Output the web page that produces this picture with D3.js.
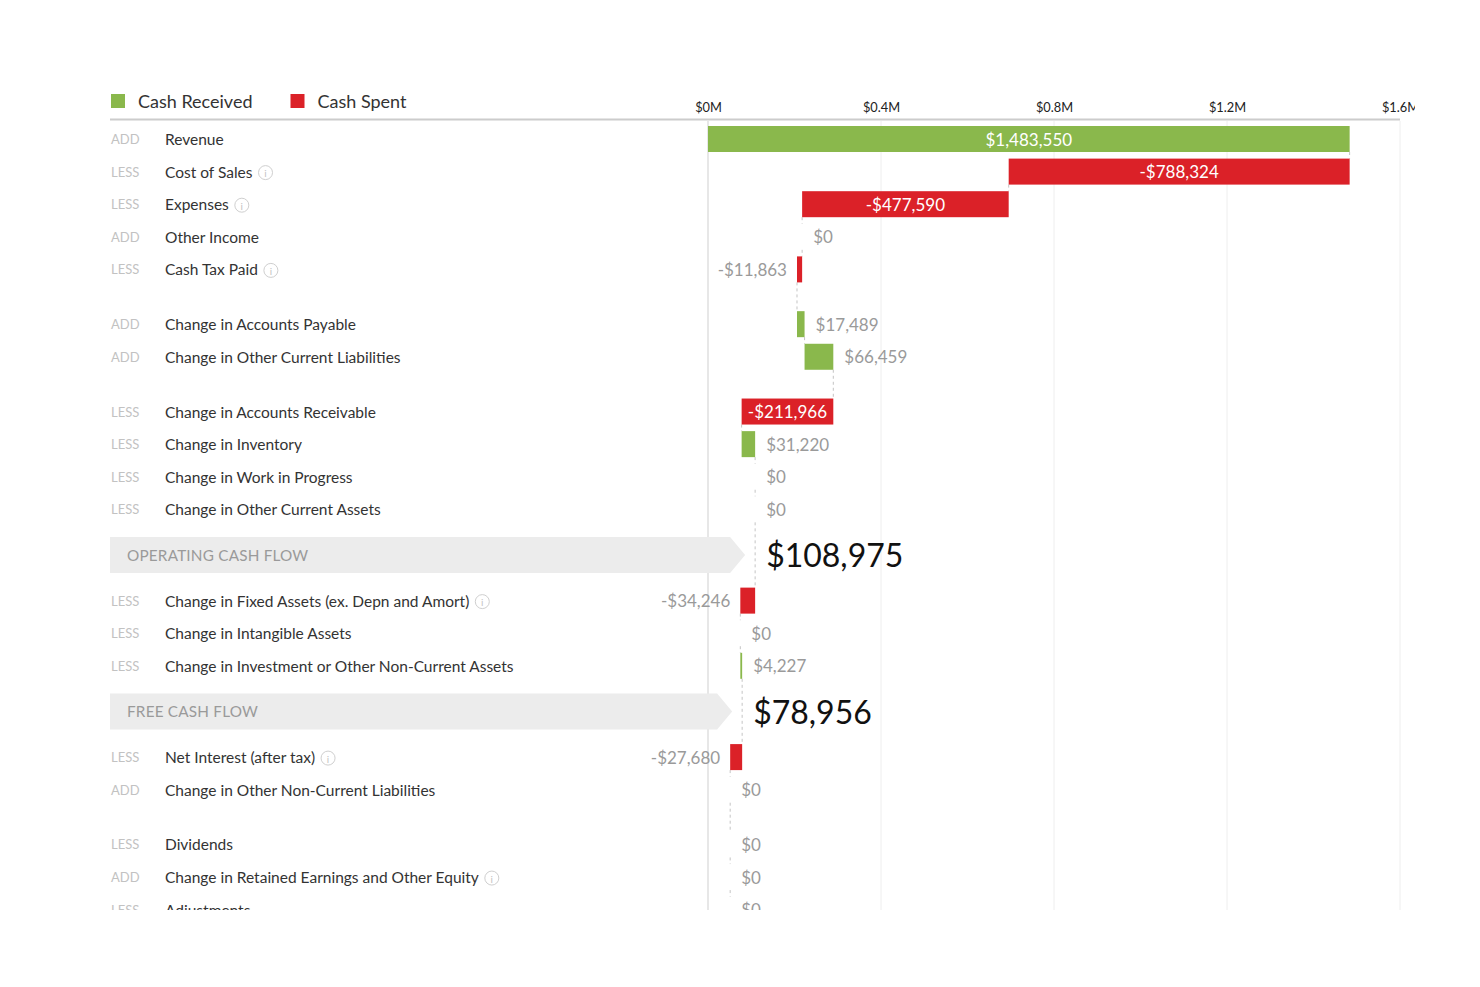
<!DOCTYPE html>
<html>
<head>
<meta charset="utf-8">
<script src="https://cdn.jsdelivr.net/npm/d3@7"></script>
<style>
  html, body { margin: 0; padding: 0; background: #fff; }
  svg { display: block; font-family: Lato, "Open Sans", sans-serif; }
</style>
</head>
<body>
<svg id="chart" width="1480" height="987"></svg>
<script>
// ---------------- DATA ----------------
const rowLabels = [
  "Revenue", "Cost of Sales", "Expenses", "Other Income", "Cash Tax Paid",
  "Change in Accounts Payable", "Change in Other Current Liabilities",
  "Change in Accounts Receivable", "Change in Inventory", "Change in Work in Progress", "Change in Other Current Assets",
  "Change in Fixed Assets (ex. Depn and Amort)", "Change in Intangible Assets", "Change in Investment or Other Non-Current Assets",
  "Net Interest (after tax)", "Change in Other Non-Current Liabilities",
  "Dividends", "Change in Retained Earnings and Other Equity", "Adjustments"
];
const rowPrefixes = [
  "ADD", "LESS", "LESS", "ADD", "LESS",
  "ADD", "ADD",
  "LESS", "LESS", "LESS", "LESS",
  "LESS", "LESS", "LESS",
  "LESS", "ADD",
  "LESS", "ADD", "LESS"
];
const rowValues = [
  1483550, -788324, -477590, 0, -11863,
  17489, 66459,
  -211966, 31220, 0, 0,
  -34246, 0, 4227,
  -27680, 0,
  0, 0, 0
];
const rowInfo = [
  false, true, true, false, true,
  false, false,
  false, false, false, false,
  true, false, false,
  true, false,
  false, true, false
];
const subtotalNames = ["OPERATING CASH FLOW", "FREE CASH FLOW"];
const subtotalValues = [108975, 78956];
// order of items: r = row, gap = spacer, sub = subtotal banner
const sequence = ["r","r","r","r","r","gap","r","r","gap","r","r","r","r","sub","r","r","r","sub","r","r","gap","r","r","r"];
const legendNames = ["Cash Received", "Cash Spent"];
const tickValues = [0, 400000, 800000, 1200000, 1600000];

// ---------------- LAYOUT ----------------
const GREEN = "#8ab84c", RED = "#db2128";
const svg = d3.select("#chart");

svg.append("defs").append("clipPath").attr("id", "clip")
  .append("rect").attr("x", 0).attr("y", 0).attr("width", 1415).attr("height", 910);

const root = svg.append("g").attr("clip-path", "url(#clip)");

const x = d3.scaleLinear().domain([0, 1600000]).range([708, 1400]);

const unitH = { r: 1, gap: 0.68, sub: 1.8 };
let acc = 0, rowIdx = 0, subIdx = 0;
const items = [];
sequence.forEach(t => {
  const it = { type: t, start: acc, center: acc + unitH[t] / 2 };
  if (t === "r") it.i = rowIdx++;
  if (t === "sub") it.s = subIdx++;
  items.push(it);
  acc += unitH[t];
});
const y = d3.scaleLinear().domain([0, 1]).range([122.7, 122.7 + 32.6]);
const barH = 26;

let run = 0;
const rows = rowLabels.map((lab, i) => {
  const from = run; run += rowValues[i];
  return { i, label: lab, prefix: rowPrefixes[i], value: rowValues[i], info: rowInfo[i], from, to: run };
});
items.filter(d => d.type === "r").forEach(d => { rows[d.i].cy = y(d.center); });

// ---------------- LEGEND ----------------
const legend = root.append("g");
let lx = 111;
legendNames.forEach((name, k) => {
  legend.append("rect").attr("x", lx).attr("y", 94).attr("width", 14).attr("height", 14)
    .attr("fill", k === 0 ? GREEN : RED);
  const t = legend.append("text").attr("x", lx + 27).attr("y", 101).attr("dominant-baseline", "central")
    .attr("font-size", 18).attr("fill", "#333").text(name);
  lx = lx + 27 + t.node().getComputedTextLength() + 38;
});

// ---------------- AXIS & GRID ----------------
const axis = d3.axisTop(x).tickValues(tickValues).tickSize(0)
  .tickFormat(d => "$" + (d / 1e6) + "M");
const axG = root.append("g").attr("transform", "translate(0,115)").call(axis);
axG.select(".domain").remove();
axG.selectAll("text").attr("font-size", 12.8).attr("fill", "#222").attr("font-family", "Lato, sans-serif");

root.append("g").selectAll("line").data(tickValues.slice(1)).join("line")
  .attr("x1", d => x(d)).attr("x2", d => x(d)).attr("y1", 121).attr("y2", 910)
  .attr("stroke", "#eeeeee").attr("stroke-width", 1);
root.append("line").attr("x1", x(0)).attr("x2", x(0)).attr("y1", 121).attr("y2", 910)
  .attr("stroke", "#cfcfcf").attr("stroke-width", 1);
root.append("line").attr("x1", 110).attr("x2", 1400).attr("y1", 119.5).attr("y2", 119.5)
  .attr("stroke", "#cccccc").attr("stroke-width", 2);

// ---------------- SUBTOTAL BANNERS ----------------
const subs = items.filter(d => d.type === "sub");
const bannerH = 36;
subs.forEach(d => {
  const cy = y(d.center);
  const v = subtotalValues[d.s];
  const tip = x(v) - 10;
  const top = cy - bannerH / 2, bot = cy + bannerH / 2;
  root.append("path")
    .attr("d", `M110,${top} L${tip - 15},${top} L${tip},${cy} L${tip - 15},${bot} L110,${bot} Z`)
    .attr("fill", "#ececec");
  root.append("text").attr("x", 127).attr("y", cy).attr("dominant-baseline", "central")
    .attr("font-size", 15.3).attr("fill", "#9a9a9a").attr("letter-spacing", 0.2).text(subtotalNames[d.s]);
  root.append("text").attr("x", x(v) + 11).attr("y", cy).attr("dominant-baseline", "central")
    .attr("font-size", 32).attr("fill", "#111").text("$" + d3.format(",")(v));
});

// ---------------- CONNECTORS ----------------
const conn = [];
for (let k = 0; k < rows.length - 1; k++) {
  conn.push({ xv: rows[k].to, y1: rows[k].cy + barH / 2, y2: rows[k + 1].cy - barH / 2 });
}
conn.push({ xv: rows[rows.length - 1].to, y1: rows[rows.length - 1].cy + barH / 2, y2: 930 });
root.append("g").selectAll("line").data(conn).join("line")
  .attr("x1", d => x(d.xv)).attr("x2", d => x(d.xv))
  .attr("y1", d => d.y1).attr("y2", d => d.y2)
  .attr("stroke", "#c4c4c4").attr("stroke-width", 1).attr("stroke-dasharray", "3,3");

// ---------------- ROW LABELS ----------------
const fmt = v => (v < 0 ? "-$" : "$") + d3.format(",")(Math.abs(v));
const labG = root.append("g");
rows.forEach(r => {
  labG.append("text").attr("x", 111).attr("y", r.cy).attr("dominant-baseline", "central")
    .attr("font-size", 13).attr("fill", "#c2c2c2").text(r.prefix);
  const t = labG.append("text").attr("x", 165).attr("y", r.cy).attr("dominant-baseline", "central")
    .attr("font-size", 15.5).attr("fill", "#333").text(r.label);
  if (r.info) {
    const cx = 165 + t.node().getComputedTextLength() + 13;
    labG.append("circle").attr("cx", cx).attr("cy", r.cy + 1).attr("r", 7)
      .attr("fill", "none").attr("stroke", "#cfcfcf").attr("stroke-width", 1);
    labG.append("text").attr("x", cx).attr("y", r.cy + 1.5).attr("text-anchor", "middle")
      .attr("dominant-baseline", "central").attr("font-size", 10).attr("fill", "#c4c4c4").text("i");
  }
});

// ---------------- BARS ----------------
const barG = root.append("g");
rows.forEach(r => {
  const x0 = x(Math.min(r.from, r.to)), x1 = x(Math.max(r.from, r.to));
  if (r.value !== 0) {
    barG.append("rect").attr("x", x0).attr("y", r.cy - barH / 2)
      .attr("width", Math.max(1.5, x1 - x0)).attr("height", barH)
      .attr("fill", r.value > 0 ? GREEN : RED);
  }
  const txt = barG.append("text").attr("y", r.cy).attr("dominant-baseline", "central")
    .attr("font-size", 17).text(fmt(r.value));
  const tw = txt.node().getComputedTextLength();
  if (r.value !== 0 && (x1 - x0) > tw + 8) {
    txt.attr("x", (x0 + x1) / 2).attr("text-anchor", "middle").attr("fill", "#fff");
  } else if (r.value < 0) {
    txt.attr("x", x0 - 10).attr("text-anchor", "end").attr("fill", "#9a9a9a");
  } else {
    txt.attr("x", x1 + 11).attr("text-anchor", "start").attr("fill", "#9a9a9a");
  }
});
</script>
</body>
</html>
